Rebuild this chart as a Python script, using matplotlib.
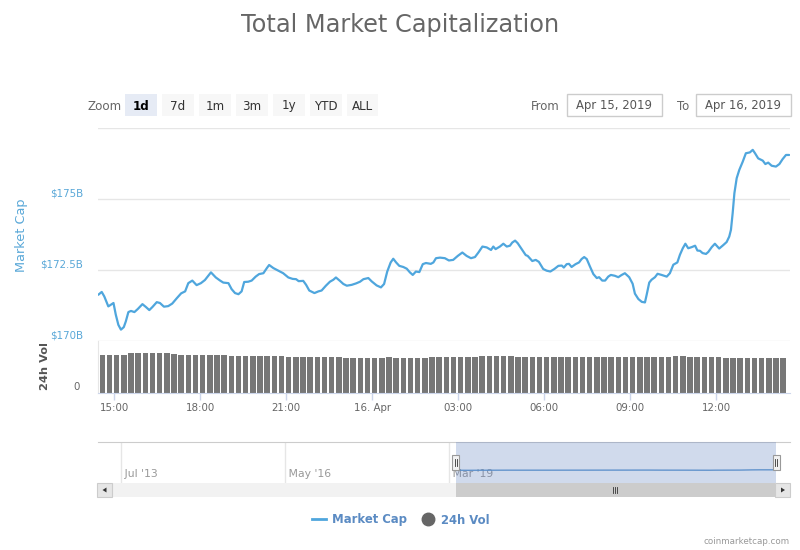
import numpy as np
import matplotlib
matplotlib.use('Agg')
from matplotlib import pyplot as plt
from matplotlib.patches import Rectangle, Polygon
from matplotlib.lines import Line2D
import matplotlib.transforms as mtransforms

# --- market cap (hours counted from 00:00 Apr 15, values in $B) ---
cap_hours = [
    14.44, 14.56, 14.65, 14.79, 14.88, 14.97, 15.05, 15.14, 15.23, 15.33,
    15.40, 15.49, 15.58, 15.70, 15.82, 15.98, 16.10, 16.22, 16.33, 16.48,
    16.59, 16.73, 16.88, 17.02, 17.18, 17.33, 17.47, 17.58, 17.72, 17.87,
    18.02, 18.16, 18.37, 18.54, 18.69, 18.80, 18.98, 19.09, 19.21, 19.33,
    19.44, 19.53, 19.67, 19.79, 19.93, 20.05, 20.20, 20.32, 20.40, 20.55,
    20.72, 20.89, 21.07, 21.22, 21.34, 21.43, 21.59, 21.69, 21.80, 21.98,
    22.12, 22.23, 22.38, 22.52, 22.64, 22.73, 22.87, 22.99, 23.11, 23.28,
    23.43, 23.57, 23.69, 23.86, 23.98, 24.15, 24.30, 24.41, 24.52, 24.64,
    24.73, 24.83, 24.94, 25.08, 25.20, 25.31, 25.41, 25.52, 25.64, 25.76,
    25.87, 26.04, 26.13, 26.22, 26.36, 26.53, 26.67, 26.82, 26.98, 27.14,
    27.29, 27.44, 27.58, 27.70, 27.84, 27.99, 28.14, 28.22, 28.30, 28.45,
    28.57, 28.69, 28.80, 28.88, 28.98, 29.07, 29.21, 29.35, 29.42, 29.58,
    29.70, 29.81, 29.96, 30.08, 30.21, 30.35, 30.49, 30.61, 30.68, 30.78,
    30.86, 30.95, 31.09, 31.21, 31.30, 31.39, 31.48, 31.59, 31.71, 31.83,
    31.91, 32.02, 32.12, 32.23, 32.32, 32.46, 32.58, 32.70, 32.81, 32.96,
    33.08, 33.16, 33.28, 33.40, 33.51, 33.57, 33.66, 33.74, 33.86, 33.95,
    34.09, 34.27, 34.38, 34.50, 34.64, 34.73, 34.83, 34.92, 35.02, 35.14,
    35.26, 35.34, 35.43, 35.52, 35.64, 35.72, 35.84, 35.95, 36.10, 36.24,
    36.36, 36.45, 36.51, 36.57, 36.63, 36.71, 36.80, 36.92, 37.03, 37.17,
    37.27, 37.35, 37.46, 37.62, 37.71, 37.81, 37.93, 38.08, 38.20, 38.31,
    38.43, 38.54,
]
cap_values = [
    171.63, 171.73, 171.57, 171.22, 171.28, 171.34, 170.93, 170.57, 170.40, 170.49,
    170.69, 171.02, 171.06, 171.02, 171.13, 171.30, 171.20, 171.09, 171.20, 171.37,
    171.34, 171.21, 171.23, 171.32, 171.51, 171.68, 171.75, 172.04, 172.13, 171.97,
    172.04, 172.15, 172.42, 172.24, 172.13, 172.06, 172.04, 171.83, 171.69, 171.65,
    171.75, 172.08, 172.09, 172.13, 172.27, 172.36, 172.39, 172.57, 172.68, 172.57,
    172.48, 172.39, 172.24, 172.19, 172.18, 172.11, 172.12, 171.98, 171.78, 171.69,
    171.75, 171.78, 171.95, 172.09, 172.16, 172.24, 172.12, 172.01, 171.95, 171.98,
    172.03, 172.09, 172.18, 172.22, 172.10, 171.96, 171.89, 172.01, 172.45, 172.77,
    172.90, 172.77, 172.65, 172.61, 172.55, 172.42, 172.33, 172.45, 172.43, 172.71,
    172.75, 172.72, 172.77, 172.92, 172.94, 172.92, 172.84, 172.86, 173.00, 173.12,
    173.00, 172.92, 172.96, 173.12, 173.33, 173.30, 173.21, 173.33, 173.24, 173.33,
    173.43, 173.33, 173.36, 173.47, 173.54, 173.45, 173.24, 173.03, 173.00, 172.82,
    172.86, 172.79, 172.54, 172.48, 172.45, 172.54, 172.65, 172.66, 172.59, 172.71,
    172.72, 172.61, 172.71, 172.77, 172.89, 172.96, 172.89, 172.63, 172.36, 172.22,
    172.25, 172.13, 172.13, 172.27, 172.33, 172.30, 172.25, 172.33, 172.39, 172.25,
    172.02, 171.67, 171.48, 171.38, 171.36, 171.63, 172.06, 172.16, 172.25, 172.37,
    172.33, 172.27, 172.39, 172.69, 172.77, 173.04, 173.27, 173.43, 173.27, 173.31,
    173.36, 173.19, 173.18, 173.10, 173.07, 173.14, 173.31, 173.43, 173.26, 173.38,
    173.49, 173.68, 173.92, 174.51, 175.21, 175.74, 176.03, 176.32, 176.62, 176.65,
    176.74, 176.62, 176.44, 176.36, 176.24, 176.29, 176.18, 176.15, 176.24, 176.41,
    176.56, 176.56,
]

# --- 24h volume, one bar per 15 min ($B) ---
vol_start = 14.58
vol_step = 0.25
vol_values = [
    51.5, 51.5, 51.5, 51.5, 53.2, 53.2, 53.2, 53.2, 53.2, 53.2,
    52.6, 51.5, 51.5, 51.5, 51.5, 51.5, 51.5, 51.3, 50.2, 50.2,
    50.2, 50.2, 50.2, 50.2, 50.2, 50.0, 48.8, 48.8, 48.8, 48.8,
    48.8, 48.8, 48.8, 48.6, 47.1, 47.1, 47.1, 47.1, 47.1, 47.1,
    47.9, 47.1, 47.1, 47.1, 47.1, 47.6, 48.8, 48.8, 48.8, 48.8,
    48.8, 48.8, 48.8, 50.2, 50.2, 50.4, 50.2, 50.2, 48.8, 48.8,
    48.8, 48.8, 48.8, 48.8, 48.8, 48.8, 48.8, 48.8, 48.8, 48.8,
    48.8, 48.8, 48.8, 48.8, 48.8, 48.8, 48.8, 48.8, 48.8, 48.8,
    49.8, 49.5, 47.9, 47.9, 47.9, 47.9, 47.9, 47.1, 47.1, 46.6,
    46.6, 46.6, 46.6, 46.6, 46.6, 46.6,
]

cap_ticks = [170, 172.5, 175, 177.5]
cap_tick_labels = ['$170B', '$172.5B', '$175B', '']
time_ticks = [15, 18, 21, 24, 27, 30, 33, 36]
time_tick_labels = ['15:00', '18:00', '21:00', '16. Apr',
                    '03:00', '06:00', '09:00', '12:00']
nav_years = [2013.5, 2016.33, 2019.17]
nav_year_labels = ["Jul '13", "May '16", "Mar '19"]
nav_window = (2019.29, 2024.83)
zoom_buttons = ['1d', '7d', '1m', '3m', '1y', 'YTD', 'ALL']
date_from = 'Apr 15, 2019'
date_to = 'Apr 16, 2019'

# --- style ---
line_col = '#4fa6dd'
bar_col = '#777777'
grid_col = '#e6e6e6'
tick_col = '#ccd6eb'
label_blue = '#5aa8d8'
legend_col = '#5b8bc3'

W, H = 800, 550
X0, X1 = 98, 790
t_lim = (14.43, 38.57)
nav_lim = (2013.10, 2025.07)


def fx(px):
    return px / W


def fy(py):
    return 1 - py / H


plt.rcParams['font.family'] = 'DejaVu Sans'
fig = plt.figure(figsize=(8, 5.5), dpi=100)
fig.patch.set_facecolor('white')
up6 = mtransforms.ScaledTranslation(0, 6 / 100, fig.dpi_scale_trans)

# title
fig.text(0.5, fy(31.7), 'Total Market Capitalization', ha='center',
         va='baseline', fontsize=17.3, color='#666666')

# === main (market cap) panel ===
ax = fig.add_axes([fx(X0), fy(341), fx(X1) - fx(X0), (341 - 128.3) / H])
ax.patch.set_alpha(0)
ax.plot(cap_hours, cap_values, color=line_col, lw=1.6,
        solid_joinstyle='round', solid_capstyle='round', zorder=3)
ax.set_xlim(*t_lim)
ax.set_ylim(170, 177.5)
ax.set_yticks(cap_ticks)
ax.set_xticks([])
ax.yaxis.grid(True, color=grid_col, lw=1)
ax.tick_params(left=False, labelleft=False)
for s in ax.spines.values():
    s.set_visible(False)
for v, lab in zip(cap_ticks, cap_tick_labels):
    ax.text(-15 / (X1 - X0), v, lab, transform=ax.get_yaxis_transform() + up6,
            ha='right', va='center', fontsize=7.4, color=label_blue)
fig.text(fx(22), fy(235), 'Market Cap', rotation=90, ha='center',
         va='center', fontsize=9.3, color=label_blue)

# === volume panel ===
vax = fig.add_axes([fx(X0), fy(393), fx(X1) - fx(X0), 52 / H])
vax.patch.set_alpha(0)
vol_hours = vol_start + vol_step * np.arange(len(vol_values))
vax.bar(vol_hours, vol_values, width=0.19, color=bar_col, zorder=2)
vax.set_xlim(*t_lim)
vax.set_ylim(0, 70)
vax.set_yticks([])
vax.set_xticks(time_ticks)
vax.set_xticklabels(time_tick_labels)
vax.tick_params(axis='x', length=5, width=1, color=tick_col,
                labelcolor='#666666', labelsize=7.4, pad=2.5)
for k in ['top', 'right']:
    vax.spines[k].set_visible(False)
vax.spines['bottom'].set_color(tick_col)
vax.spines['left'].set_color(grid_col)
vax.text(-18 / (X1 - X0), 0, '0', transform=vax.get_yaxis_transform() + up6,
         ha='right', va='center', fontsize=7.4, color='#666666')
fig.text(fx(45), fy(366), '24h Vol', rotation=90, ha='center', va='center',
         fontsize=8.2, fontweight='bold', color='#555555')

# === navigator ===
nax = fig.add_axes([fx(X0), fy(483), fx(X1) - fx(X0), 41 / H])
nax.set_xlim(*nav_lim)
nax.set_ylim(0, 550)
nax.set_xticks([])
nax.set_yticks([])
for k in ['left', 'right', 'bottom']:
    nax.spines[k].set_visible(False)
nax.spines['top'].set_color('#cccccc')
for yr, lab in zip(nav_years, nav_year_labels):
    nax.axvline(yr, color=grid_col, lw=1, zorder=1)
    nax.text(yr, 0.22, ' ' + lab, transform=nax.get_xaxis_transform(),
             ha='left', va='center', fontsize=7.8, color='#999999', zorder=2)
cap_h = np.array(cap_hours)
nav_x = nav_window[0] + (cap_h - cap_h[0]) / (cap_h[-1] - cap_h[0]) * \
    (nav_window[1] - nav_window[0])
nax.plot(nav_x, cap_values, color='#4f8fcc', lw=0.9, zorder=3)
nax.axvspan(nav_window[0], nav_window[1], color=(0.4, 0.52, 0.76, 0.3),
            lw=0, zorder=4)

# --- overlay for range selector, handles and scrollbar (pixel coords) ---
ui = fig.add_axes([0, 0, 1, 1], zorder=10)
ui.set_xlim(0, W)
ui.set_ylim(H, 0)
ui.axis('off')


def to_px(ax_, x):
    return ax_.transData.transform((x, 0))[0]


# zoom buttons
ui.text(122, 104.5, 'Zoom', ha='right', va='center_baseline', fontsize=8.6,
        color='#666666')
btn_left = [125, 162.3, 199, 236, 273.3, 310, 346.7]
for i, (bx, lab) in enumerate(zip(btn_left, zoom_buttons)):
    sel = i == 0
    ui.add_patch(Rectangle((bx, 94), 31.6, 21.7, lw=0,
                           facecolor='#e6ebf5' if sel else '#f7f7f7'))
    ui.text(bx + 15.8, 104.5, lab, ha='center', va='center_baseline',
            fontsize=8.6, color='#000000' if sel else '#333333',
            fontweight='bold' if sel else 'normal')

# date range inputs
ui.text(560, 104.5, 'From', ha='right', va='center_baseline', fontsize=8.4,
        color='#666666')
ui.text(689, 104.5, 'To', ha='right', va='center_baseline', fontsize=8.4,
        color='#666666')
for bx, lab in [(567.3, date_from), (696, date_to)]:
    ui.add_patch(Rectangle((bx, 94), 94.5, 21.7, lw=1, edgecolor='#cccccc',
                           facecolor='white'))
    ui.text(bx + 47.2, 104.5, lab, ha='center', va='center_baseline',
            fontsize=8.4, color='#555555')

# navigator handles
win_px = [to_px(nax, nav_window[0]), to_px(nax, nav_window[1])]
for hx in win_px:
    ui.add_patch(Rectangle((hx - 3.5, 454.5), 7, 15.5, lw=0.8,
                           edgecolor='#999999', facecolor='#f2f2f2'))
    for dx in (-1.2, 1.2):
        ui.plot([hx + dx, hx + dx], [458.5, 466], color='#333333', lw=0.6)

# scrollbar
ui.add_patch(Rectangle((112, 483), 663, 14, lw=0, facecolor='#f2f2f2'))
ui.add_patch(Rectangle((win_px[0], 483), 775 - win_px[0], 14, lw=0,
                       facecolor='#cccccc'))
grip = (win_px[0] + 775) / 2
for dx in (-2, 0, 2):
    ui.plot([grip + dx, grip + dx], [487, 493], color='#333333', lw=0.6)
for bx, pts in [(97, [(106.5, 487.5), (106.5, 492.5), (102.5, 490)]),
                (775, [(781, 487.5), (781, 492.5), (785, 490)])]:
    ui.add_patch(Rectangle((bx, 483), 15, 14, lw=0.8, edgecolor='#cccccc',
                           facecolor='#e6e6e6'))
    ui.add_patch(Polygon(pts, closed=True, facecolor='#333333', lw=0))

# legend
handles = [Line2D([], [], color=line_col, lw=2),
           Line2D([], [], marker='o', ls='', color='#666666', ms=9)]
fig.legend(handles, ['Market Cap', '24h Vol'], loc='center',
           bbox_to_anchor=(fx(401), fy(520)), ncol=2, frameon=False,
           handlelength=1.2, handletextpad=0.5, columnspacing=1.2,
           prop={'weight': 'bold', 'size': 8.4}, labelcolor=legend_col)

# credits
fig.text(fx(790), fy(541), 'coinmarketcap.com', ha='right', va='center',
         fontsize=6.3, color='#999999')

fig.savefig('out.png', dpi=100)
plt.close()
